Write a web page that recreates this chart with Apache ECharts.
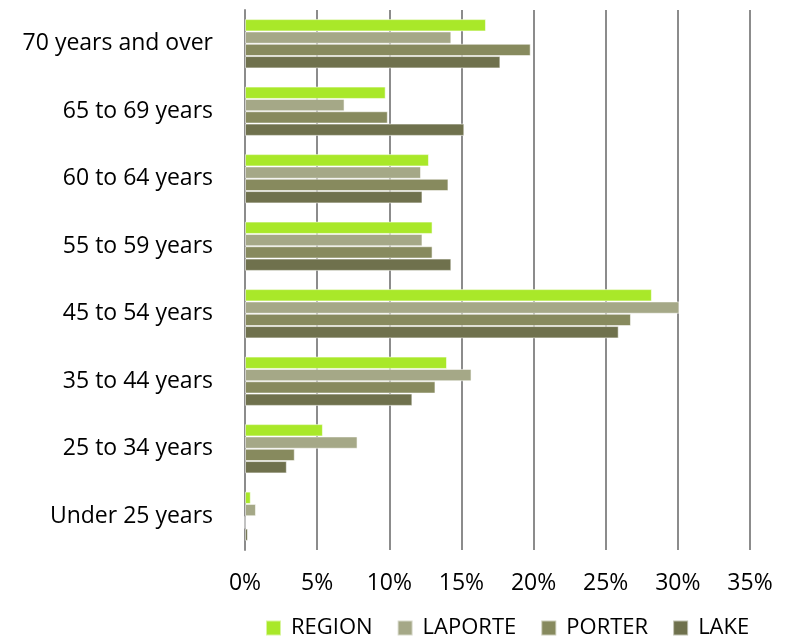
<!DOCTYPE html>
<html><head><meta charset="utf-8">
<script src="https://cdn.jsdelivr.net/npm/echarts@6/dist/echarts.min.js"></script>
<style>html,body{margin:0;padding:0;background:#fff}#c{width:785px;height:644px}</style>
</head><body><div id="c"></div>
<script>
const categories = ["Under 25 years","25 to 34 years","35 to 44 years","45 to 54 years","55 to 59 years","60 to 64 years","65 to 69 years","70 years and over"];
const seriesNames = ["REGION","LAPORTE","PORTER","LAKE"];
const region  = [0.4, 5.4, 14.0, 28.2, 13.0, 12.75, 9.75, 16.7];
const laporte = [0.76, 7.8, 15.7, 30.1, 12.3, 12.2, 6.9, 14.3];
const porter  = [0.0, 3.45, 13.2, 26.75, 13.0, 14.1, 9.9, 19.8];
const lake    = [0.2, 2.9, 11.6, 25.9, 14.3, 12.3, 15.2, 17.7];
const xTicks = [0,5,10,15,20,25,30,35];
const colors = ["#a9e829","#a5a887","#878a5e","#6f714d"];
const values = [region, laporte, porter, lake];

const chart = echarts.init(document.getElementById('c'), null, {renderer:'canvas'});
const font = 'Open Sans';
chart.setOption({
  animation:false,
  grid:{left:245,right:35,top:10,bottom:94,containLabel:false},
  legend:{
    data:seriesNames, bottom:0, left:260, icon:'rect', itemWidth:15, itemHeight:15, itemGap:24,
    textStyle:{fontFamily:font,fontSize:22,color:'#000',padding:[0,0,0,5]}
  },
  xAxis:{
    type:'value', min:xTicks[0], max:xTicks[xTicks.length-1], interval:5,
    axisLine:{show:false}, axisTick:{show:false},
    splitLine:{lineStyle:{color:'#8c8c8c',width:2}},
    axisLabel:{formatter:v=>v+'%',fontFamily:font,fontSize:23,color:'#000',margin:22}
  },
  yAxis:{
    type:'category', data:categories,
    axisLine:{lineStyle:{color:'#8c8c8c',width:2}},
    axisTick:{show:false},
    axisLabel:{fontFamily:font,fontSize:23,color:'#000',margin:32}
  },
  series: seriesNames.map((n,i)=>({
    name:n, type:'bar', data:values[i], barGap:'0%', barCategoryGap:'27%',
    itemStyle:{color:colors[i], borderColor:'rgba(255,255,255,0.55)', borderWidth:1}
  }))
});
</script></body></html>
